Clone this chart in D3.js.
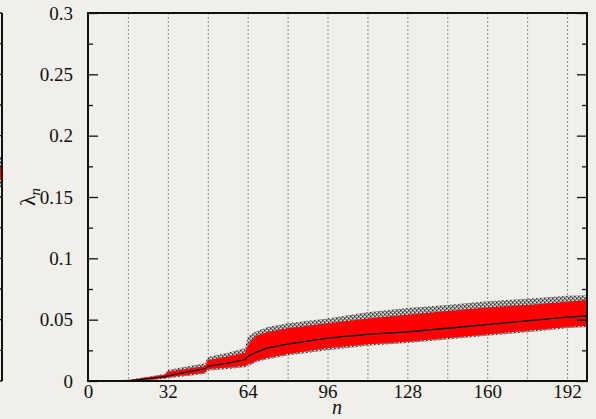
<!DOCTYPE html>
<html>
<head>
<meta charset="utf-8">
<script src="https://cdn.jsdelivr.net/npm/d3@7"></script>
<style>
  html, body { margin: 0; padding: 0; background: #f0efe9; }
  svg { display: block; }
  text { font-family: "Liberation Serif", "Times New Roman", Tinos, "DejaVu Serif", serif; fill: #111; }
</style>
</head>
<body>
<div id="chart"></div>
<script>
const nValues = [0, 16, 24, 31, 32, 40, 47, 48, 56, 63, 64, 66, 68, 72, 80, 96, 112, 128, 144, 160, 176, 192, 200];
// median lambda_n
const median  = [0, 0, 0.002, 0.0035, 0.0042, 0.0075, 0.0100, 0.0120, 0.0145, 0.0175, 0.0200, 0.0220, 0.0240, 0.0270, 0.0300, 0.0350, 0.0380, 0.0400, 0.0430, 0.0460, 0.0490, 0.0520, 0.0530];
// inner (red) band
const redLow  = [0, 0, 0.001, 0.0025, 0.0030, 0.0050, 0.0070, 0.0098, 0.0110, 0.0125, 0.0135, 0.0150, 0.0170, 0.0190, 0.0220, 0.0270, 0.0300, 0.0320, 0.0350, 0.0380, 0.0410, 0.0440, 0.0450];
const redHigh = [0, 0.0005, 0.003, 0.0050, 0.0076, 0.0100, 0.0120, 0.0170, 0.0200, 0.0230, 0.0290, 0.0340, 0.0375, 0.0400, 0.0430, 0.0470, 0.0510, 0.0540, 0.0570, 0.0600, 0.0620, 0.0647, 0.0660];
// outer (grey) band
const greyLow  = [0, 0, 0.0005, 0.0018, 0.0022, 0.0040, 0.0060, 0.0084, 0.0098, 0.0112, 0.0122, 0.0138, 0.0158, 0.0178, 0.0208, 0.0250, 0.0288, 0.0310, 0.0338, 0.0368, 0.0398, 0.0430, 0.0440];
const greyHigh = [0, 0.0010, 0.0035, 0.0060, 0.0090, 0.0120, 0.0145, 0.0195, 0.0230, 0.0270, 0.0360, 0.0390, 0.0410, 0.0440, 0.0470, 0.0510, 0.0560, 0.0595, 0.0620, 0.0650, 0.0670, 0.0695, 0.0700];

const xTickValues = [0, 32, 64, 96, 128, 160, 192];
const gridValues = [16, 32, 48, 64, 80, 96, 112, 128, 144, 160, 176, 192];
const yTickValues = [0, 0.05, 0.1, 0.15, 0.2, 0.25, 0.3];
const yTickLabels = ['0', '0.05', '0.1', '0.15', '0.2', '0.25', '0.3'];
const yMinorValues = [0.025, 0.075, 0.125, 0.175, 0.225, 0.275];

// edge of the neighbouring panel on the left
const leftPanelGrey = [0.158, 0.183];
const leftPanelRed = [0.164, 0.1745];

const width = 596, height = 419;
const margin = { left: 88, right: 9, top: 13, bottom: 38 };
const serif = '"Liberation Serif", "Times New Roman", Tinos, "DejaVu Serif", serif';

const svg = d3.select('#chart').append('svg')
  .attr('width', width)
  .attr('height', height);

const x = d3.scaleLinear().domain([0, 200]).range([margin.left, width - margin.right]);
const y = d3.scaleLinear().domain([0, 0.3]).range([height - margin.bottom, margin.top]);

// dithered grey fill
const defs = svg.append('defs');
const pat = defs.append('pattern')
  .attr('id', 'dither')
  .attr('patternUnits', 'userSpaceOnUse')
  .attr('width', 4).attr('height', 4);
pat.append('rect').attr('width', 4).attr('height', 4).attr('fill', '#858585');
pat.append('rect').attr('x', 0).attr('y', 0).attr('width', 2).attr('height', 1).attr('fill', '#d8d8d8');
pat.append('rect').attr('x', 2).attr('y', 2).attr('width', 2).attr('height', 1).attr('fill', '#d8d8d8');
pat.append('rect').attr('x', 2).attr('y', 0).attr('width', 1).attr('height', 1).attr('fill', '#2a2a2a');
pat.append('rect').attr('x', 0).attr('y', 2).attr('width', 1).attr('height', 1).attr('fill', '#2a2a2a');

defs.append('clipPath').attr('id', 'plotClip')
  .append('rect')
  .attr('x', margin.left).attr('y', margin.top)
  .attr('width', width - margin.left - margin.right)
  .attr('height', height - margin.top - margin.bottom);

// left neighbour panel edge
const lp = svg.append('g');
lp.append('rect')
  .attr('x', -6).attr('width', 8)
  .attr('y', y(leftPanelGrey[1])).attr('height', y(leftPanelGrey[0]) - y(leftPanelGrey[1]))
  .attr('fill', 'url(#dither)');
lp.append('rect')
  .attr('x', -6).attr('width', 8)
  .attr('y', y(leftPanelRed[1])).attr('height', y(leftPanelRed[0]) - y(leftPanelRed[1]))
  .attr('fill', '#ff0000');
lp.append('line')
  .attr('x1', 2).attr('x2', 2)
  .attr('y1', y(0.3)).attr('y2', y(0))
  .attr('stroke', '#111').attr('stroke-width', 2);
lp.selectAll('.lt').data(yTickValues.concat(yMinorValues)).enter().append('line')
  .attr('x1', -8).attr('x2', 2)
  .attr('y1', d => y(d)).attr('y2', d => y(d))
  .attr('stroke', '#111').attr('stroke-width', 1.3);

// grid
svg.append('g').selectAll('line').data(gridValues).enter().append('line')
  .attr('x1', d => x(d) + 0.5).attr('x2', d => x(d) + 0.5)
  .attr('y1', y(0.3)).attr('y2', y(0))
  .attr('stroke', '#8f8f8f')
  .attr('stroke-width', 1)
  .attr('stroke-dasharray', '2,2');

const rows = nValues.map((n, i) => ({
  n, m: median[i], rl: redLow[i], rh: redHigh[i], gl: greyLow[i], gh: greyHigh[i]
}));

const plot = svg.append('g').attr('clip-path', 'url(#plotClip)');

plot.append('path').datum(rows)
  .attr('fill', 'url(#dither)')
  .attr('d', d3.area().x(d => x(d.n)).y0(d => y(d.gl)).y1(d => y(d.gh)));

plot.append('path').datum(rows)
  .attr('fill', '#ff0000')
  .attr('d', d3.area().x(d => x(d.n)).y0(d => y(d.rl)).y1(d => y(d.rh)));

plot.append('path').datum(rows)
  .attr('fill', 'none')
  .attr('stroke', '#000')
  .attr('stroke-width', 1.3)
  .attr('d', d3.line().x(d => x(d.n)).y(d => y(d.m)));

// frame
svg.append('rect')
  .attr('x', margin.left).attr('y', margin.top)
  .attr('width', width - margin.left - margin.right)
  .attr('height', height - margin.top - margin.bottom)
  .attr('fill', 'none')
  .attr('stroke', '#111')
  .attr('stroke-width', 2);

// y ticks, left and right
const yAxisL = d3.axisLeft(y).tickValues(yTickValues).tickSize(-10).tickPadding(15)
  .tickFormat((d, i) => yTickLabels[i]);
const gL = svg.append('g').attr('transform', `translate(${margin.left},0)`).call(yAxisL);
const yAxisR = d3.axisRight(y).tickValues(yTickValues).tickSize(-10).tickFormat('');
const gR = svg.append('g').attr('transform', `translate(${width - margin.right},0)`).call(yAxisR);
const yMinL = d3.axisLeft(y).tickValues(yMinorValues).tickSize(-5).tickFormat('');
const gML = svg.append('g').attr('transform', `translate(${margin.left},0)`).call(yMinL);
const yMinR = d3.axisRight(y).tickValues(yMinorValues).tickSize(-5).tickFormat('');
const gMR = svg.append('g').attr('transform', `translate(${width - margin.right},0)`).call(yMinR);

[gL, gR, gML, gMR].forEach(g => {
  g.attr('font-family', serif);
  g.select('.domain').remove();
  g.selectAll('line').attr('stroke', '#111').attr('stroke-width', 1.3);
});
gL.selectAll('text')
  .style('font-family', serif)
  .attr('font-size', 19)
  .attr('fill', '#111');

// x tick labels
const xAxis = d3.axisBottom(x).tickValues(xTickValues).tickSize(0).tickPadding(3);
const gX = svg.append('g').attr('transform', `translate(0,${y(0)})`).call(xAxis);
gX.attr('font-family', serif);
gX.select('.domain').remove();
gX.selectAll('text')
  .style('font-family', serif)
  .attr('font-size', 19)
  .attr('fill', '#111');

// axis titles
svg.append('text')
  .attr('x', 337).attr('y', 414)
  .attr('text-anchor', 'middle')
  .attr('font-size', 20)
  .attr('font-style', 'italic')
  .text('n');

const yt = svg.append('text')
  .attr('transform', `translate(35,${(y(0) + y(0.3)) / 2}) rotate(-90)`)
  .attr('text-anchor', 'middle')
  .attr('font-size', 22);
yt.append('tspan').text('λ');
yt.append('tspan').attr('font-style', 'italic').attr('font-size', 15).attr('dy', 5).text('n');
</script>
</body>
</html>
